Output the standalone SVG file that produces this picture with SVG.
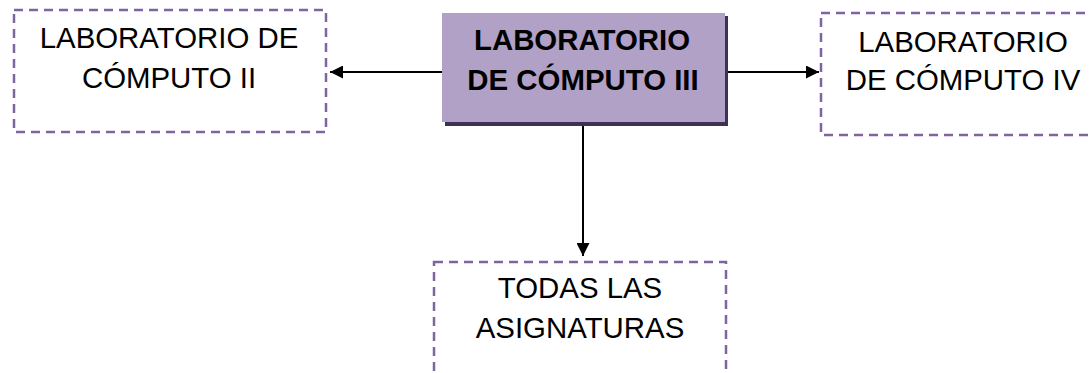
<svg xmlns="http://www.w3.org/2000/svg" width="1091" height="373" viewBox="0 0 1091 373">
<defs>
<style>
.dash{fill:#fff;stroke:#8064a2;stroke-width:2.5;stroke-dasharray:9,6}
.t{font-family:"Liberation Sans",Arial,sans-serif;font-size:29.4px;fill:#000;text-anchor:middle}
.b{font-weight:bold}
.c{stroke:#000;stroke-width:2;fill:none}
</style>
<marker id="ah" viewBox="0 0 10 10" refX="10" refY="5" markerWidth="13" markerHeight="13" markerUnits="userSpaceOnUse" orient="auto">
<path d="M0,0 L10,5 L0,10 z" fill="#000"/>
</marker>
</defs>
<rect width="1091" height="373" fill="#fff"/>
<g id="connectors">
<line class="c" x1="442" y1="72" x2="330" y2="72" marker-end="url(#ah)"/>
<line class="c" x1="725" y1="72" x2="819" y2="72" marker-end="url(#ah)"/>
<line class="c" x1="583" y1="126" x2="583" y2="256" marker-end="url(#ah)"/>
</g>
<g id="node-lab2">
<rect class="dash" x="14" y="10" width="312" height="122"/>
<text class="t" x="169" y="48">LABORATORIO DE</text>
<text class="t" x="169" y="88">CÓMPUTO II</text>
</g>
<g id="node-lab3">
<rect x="445" y="16" width="283" height="110" fill="#3f3151"/>
<rect x="442" y="13" width="283" height="109" fill="#b2a1c7"/>
<text class="t b" x="582" y="50">LABORATORIO</text>
<text class="t b" x="583" y="90">DE CÓMPUTO III</text>
</g>
<g id="node-lab4">
<rect class="dash" x="821" y="13" width="290" height="122"/>
<text class="t" x="963" y="52">LABORATORIO</text>
<text class="t" x="963" y="90">DE CÓMPUTO IV</text>
</g>
<g id="node-todas">
<rect class="dash" x="434" y="262" width="292" height="130"/>
<text class="t" x="580" y="298">TODAS LAS</text>
<text class="t" x="580" y="338">ASIGNATURAS</text>
</g>
</svg>
